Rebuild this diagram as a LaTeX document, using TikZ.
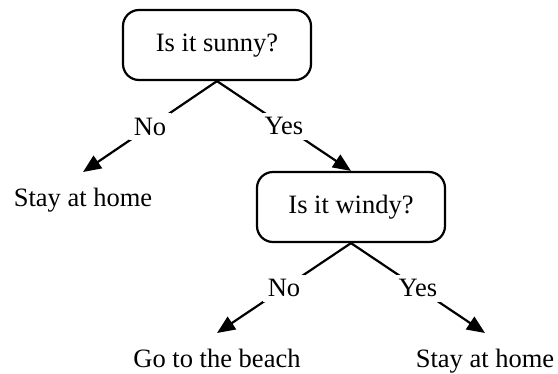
\documentclass[tikz,border=0pt]{standalone}
\usepackage{fontspec}
\setmainfont{Liberation Serif}
\usetikzlibrary{arrows.meta}

\begin{document}
\begin{tikzpicture}[x=1pt, y=-1pt,
    every node/.style={font=\fontsize{26.5}{30}\selectfont, text height=18pt, text depth=6pt},
    question/.style={draw, line width=2.2pt, rounded corners=16pt, minimum width=188pt, minimum height=70pt},
    leaf/.style={anchor=north, inner sep=16pt},
    answer/.style={fill=white, inner sep=5pt, text height=17pt, text depth=0pt},
    edge/.style={line width=2.2pt, -{Triangle[length=18pt, width=15pt]}}]
    \useasboundingbox (0,0) rectangle (558,373);

    \node[question] (sunny) at (217,45) {Is it sunny?};
    \node[question] (windy) at (351,207) {Is it windy?};
    \node[leaf] (home1) at (83,172) {Stay at home};
    \node[leaf] (beach) at (217,333) {Go to the beach};
    \node[leaf] (home2) at (485,333) {Stay at home};

    \draw[edge] (sunny.south) -- node[answer] {No} (home1.north);
    \draw[edge] (sunny.south) -- node[answer] {Yes} (windy.north);
    \draw[edge] (windy.south) -- node[answer] {No} (beach.north);
    \draw[edge] (windy.south) -- node[answer] {Yes} (home2.north);
\end{tikzpicture}
\end{document}
